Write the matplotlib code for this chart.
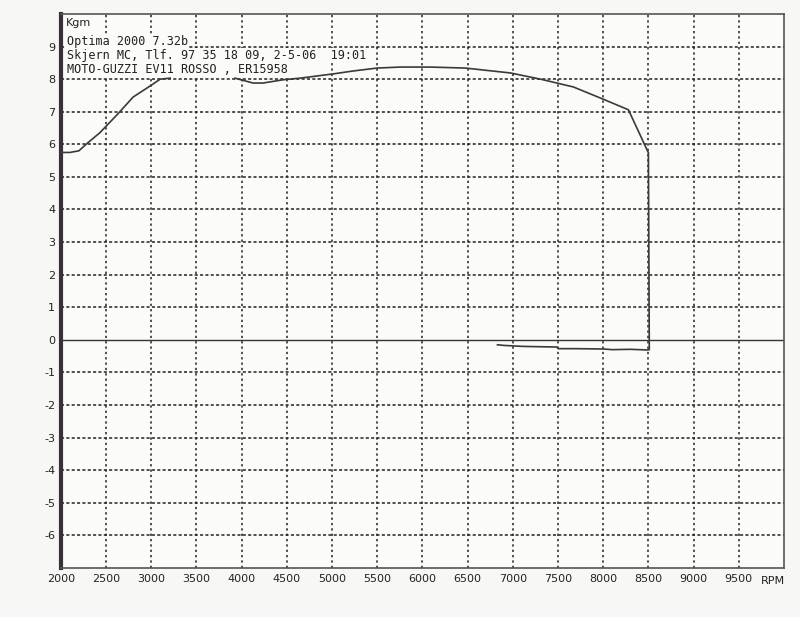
import matplotlib
matplotlib.use("Agg")
from matplotlib import pyplot as plt
import numpy as np

# torque curve (Kgm vs RPM); NaN = gap in the trace
rpm = [2000, 2100, 2200, 2300, 2430, 2620, 2800, 2950, 3100, 3210,
       3550,
       3927, 4127, 4237, 4459, 4647, 5012, 5234, 5500, 5754, 6087,
       6474, 6972, 7305, 7670, 7969, 8279, 8500, 8510,
       8490, 8300, 8100, 8000, 7700, 7500, 7490, 7105, 6900, 6830]
kgm = [5.75, 5.75, 5.8, 6.05, 6.35, 6.9, 7.45, 7.72, 8.0, 8.03,
       np.nan,
       8.03, 7.88, 7.88, 7.98, 8.03, 8.16, 8.25, 8.34, 8.37, 8.37,
       8.34, 8.19, 8.0, 7.76, 7.42, 7.06, 5.74, -0.3,
       -0.31, -0.29, -0.3, -0.28, -0.27, -0.27, -0.22, -0.2, -0.17, -0.15]

xticks = list(range(2000, 10000, 500))
yticks = list(range(-6, 10))
header = ["Optima 2000 7.32b",
          "Skjern MC, Tlf. 97 35 18 09, 2-5-06  19:01",
          "MOTO-GUZZI EV11 ROSSO , ER15958"]

fig = plt.figure(figsize=(8, 6.17), dpi=100, facecolor='#f7f8f5')
ax = fig.add_axes([0.076, 0.0794, 0.904, 0.898])
ax.set_facecolor('#fbfbf9')

ax.set_xlim(2000, 10000)
ax.set_ylim(-7, 10)
ax.set_xticks(xticks)
ax.set_yticks(yticks)
ax.set_xticklabels([str(t) for t in xticks])
ax.set_yticklabels([str(t) for t in yticks])
ax.tick_params(length=0, labelsize=8, colors='#222222', pad=4)

for x in xticks[1:]:
    ax.axvline(x, color='#222222', lw=1.1, ls=(0, (1.5, 2)), zorder=1)
for y in yticks:
    if y != 0:
        ax.axhline(y, color='#222222', lw=1.1, ls=(0, (2, 1.5)), zorder=1)
ax.axhline(0, color='#333333', lw=1.0, zorder=1)

for s in ['top', 'right', 'bottom']:
    ax.spines[s].set_color('#555555')
    ax.spines[s].set_linewidth(1.2)
ax.spines['left'].set_color('#3a3038')
ax.spines['left'].set_linewidth(3)

ax.plot(rpm, kgm, color='#3a3a3a', lw=1.2, zorder=5)

ax.text(0.007, 0.992, "Kgm", transform=ax.transAxes, fontsize=8,
        family='DejaVu Sans', va='top', ha='left', color='#222222', zorder=4)
for i, line in enumerate(header):
    ax.text(0.009, 0.962 - i * 0.0255, line, transform=ax.transAxes,
            fontsize=8.5, family='DejaVu Sans Mono', va='top', ha='left',
            color='#222222', zorder=4,
            bbox=dict(facecolor='#fbfbf9', edgecolor='none', pad=0.8))

ax.text(9880, -7.25, "RPM", fontsize=8, va='top', ha='center', color='#222222')

fig.savefig('out.png', dpi=100, facecolor=fig.get_facecolor())
